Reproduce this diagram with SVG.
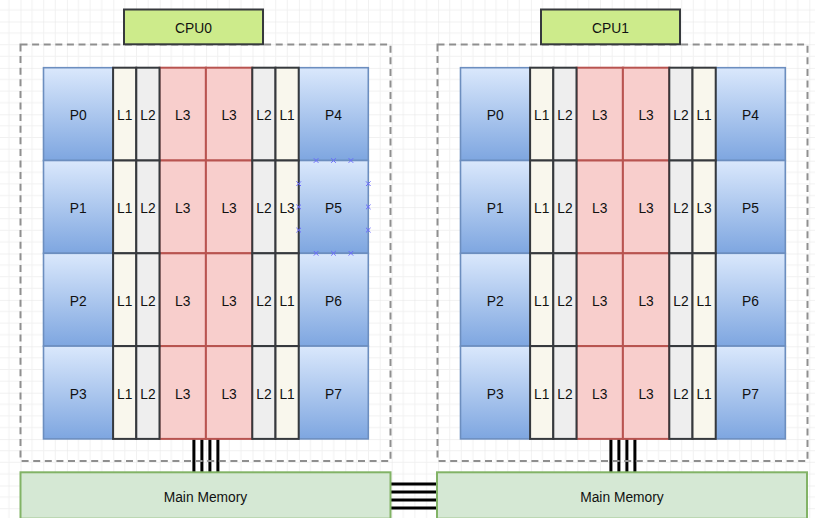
<svg xmlns="http://www.w3.org/2000/svg" xmlns:xlink="http://www.w3.org/1999/xlink" width="815" height="518" viewBox="0 0 815 518">
  <defs>
    <pattern id="grid" patternUnits="userSpaceOnUse" x="20.5" y="21.5" width="46.4" height="46.4">
      <path d="M11.6,0V46.4M23.2,0V46.4M34.8,0V46.4M0,11.6H46.4M0,23.2H46.4M0,34.8H46.4" fill="none" stroke="#f1f1f1" stroke-width="1"/>
      <path d="M0,0V46.4M0,0H46.4" fill="none" stroke="#e4e4e4" stroke-width="1"/>
    </pattern>
    <linearGradient id="pg" x1="0" y1="0" x2="0" y2="1">
      <stop offset="0" stop-color="#dae8fc"/>
      <stop offset="1" stop-color="#7ea6e0"/>
    </linearGradient>
    <path id="handle" d="M-2.3,-2.3L2.3,2.3M-2.3,2.3L2.3,-2.3" fill="none" stroke="#6a6aff" stroke-width="1"/>
  </defs>
  <style>
    text { font-family: "Liberation Sans", Arial, Helvetica, sans-serif; font-size: 13.8px; text-anchor: middle; fill: #111; }
    .frame { fill: none; stroke: #8f8f8f; stroke-width: 2; stroke-dasharray: 7 4.6; }
    .cpu rect { fill: #cdeb8b; stroke: #36393d; stroke-width: 2; }
    .p rect { fill: url(#pg); stroke: #6c8ebf; stroke-width: 1.6; }
    .l1 rect { fill: #f9f7ed; stroke: #36393d; stroke-width: 2; }
    .l2 rect { fill: #eeeeee; stroke: #36393d; stroke-width: 2; }
    .l3 rect { fill: #f8cecc; stroke: #b85450; stroke-width: 2; }
    .mem rect { fill: #d5e8d4; stroke: #82b366; stroke-width: 2; }
    .bus { stroke: #000; stroke-width: 3; fill: none; }
  </style>

  <rect x="0" y="0" width="815" height="518" fill="#ffffff"/>
  <rect x="0" y="0" width="815" height="518" fill="url(#grid)"/>

  <!-- memory buses -->
  <g id="connectors">
    <path class="bus" d="M193.9,438.9V472.3M201.9,438.9V472.3M209.9,438.9V472.3M217.9,438.9V472.3"/>
    <path class="bus" d="M610.9,438.9V472.3M618.9,438.9V472.3M626.9,438.9V472.3M634.9,438.9V472.3"/>
    <path class="bus" d="M390.5,484H437M390.5,492H437M390.5,500H437M390.5,508H437"/>
  </g>

  <!-- socket 0 -->
  <g id="cpu0">
    <rect id="cpu0-frame" class="frame" x="20.5" y="44.5" width="370" height="416.5"/>
    <g id="cpu0-label" class="cpu"><rect x="124" y="9.5" width="139" height="34.8"/><text x="193.5" y="33.3">CPU0</text></g>

    <g id="cpu0-p0" class="p"><rect x="43.5" y="67.7" width="69.6" height="92.8"/><text x="78.3" y="120.4">P0</text></g>
    <g id="cpu0-p1" class="p"><rect x="43.5" y="160.5" width="69.6" height="92.8"/><text x="78.3" y="213.2">P1</text></g>
    <g id="cpu0-p2" class="p"><rect x="43.5" y="253.3" width="69.6" height="92.8"/><text x="78.3" y="306">P2</text></g>
    <g id="cpu0-p3" class="p"><rect x="43.5" y="346.1" width="69.6" height="92.8"/><text x="78.3" y="398.8">P3</text></g>
    <g id="cpu0-p4" class="p"><rect x="298.7" y="67.7" width="69.6" height="92.8"/><text x="333.5" y="120.4">P4</text></g>
    <g id="cpu0-p5" class="p"><rect x="298.7" y="160.5" width="69.6" height="92.8"/><text x="333.5" y="213.2">P5</text></g>
    <g id="cpu0-p6" class="p"><rect x="298.7" y="253.3" width="69.6" height="92.8"/><text x="333.5" y="306">P6</text></g>
    <g id="cpu0-p7" class="p"><rect x="298.7" y="346.1" width="69.6" height="92.8"/><text x="333.5" y="398.8">P7</text></g>

    <g id="cpu0-r0-l3a" class="l3"><rect x="159.5" y="67.7" width="46.4" height="92.8"/><text x="182.7" y="120.4">L3</text></g>
    <g id="cpu0-r0-l3b" class="l3"><rect x="205.9" y="67.7" width="46.4" height="92.8"/><text x="229.1" y="120.4">L3</text></g>
    <g id="cpu0-r1-l3a" class="l3"><rect x="159.5" y="160.5" width="46.4" height="92.8"/><text x="182.7" y="213.2">L3</text></g>
    <g id="cpu0-r1-l3b" class="l3"><rect x="205.9" y="160.5" width="46.4" height="92.8"/><text x="229.1" y="213.2">L3</text></g>
    <g id="cpu0-r2-l3a" class="l3"><rect x="159.5" y="253.3" width="46.4" height="92.8"/><text x="182.7" y="306">L3</text></g>
    <g id="cpu0-r2-l3b" class="l3"><rect x="205.9" y="253.3" width="46.4" height="92.8"/><text x="229.1" y="306">L3</text></g>
    <g id="cpu0-r3-l3a" class="l3"><rect x="159.5" y="346.1" width="46.4" height="92.8"/><text x="182.7" y="398.8">L3</text></g>
    <g id="cpu0-r3-l3b" class="l3"><rect x="205.9" y="346.1" width="46.4" height="92.8"/><text x="229.1" y="398.8">L3</text></g>

    <g id="cpu0-r0-l1a" class="l1"><rect x="113.1" y="67.7" width="23.2" height="92.8"/><text x="124.7" y="120.4">L1</text></g>
    <g id="cpu0-r0-l2a" class="l2"><rect x="136.3" y="67.7" width="23.2" height="92.8"/><text x="147.9" y="120.4">L2</text></g>
    <g id="cpu0-r0-l2b" class="l2"><rect x="252.3" y="67.7" width="23.2" height="92.8"/><text x="263.9" y="120.4">L2</text></g>
    <g id="cpu0-r0-l1b" class="l1"><rect x="275.5" y="67.7" width="23.2" height="92.8"/><text x="287.1" y="120.4">L1</text></g>

    <g id="cpu0-r1-l1a" class="l1"><rect x="113.1" y="160.5" width="23.2" height="92.8"/><text x="124.7" y="213.2">L1</text></g>
    <g id="cpu0-r1-l2a" class="l2"><rect x="136.3" y="160.5" width="23.2" height="92.8"/><text x="147.9" y="213.2">L2</text></g>
    <g id="cpu0-r1-l2b" class="l2"><rect x="252.3" y="160.5" width="23.2" height="92.8"/><text x="263.9" y="213.2">L2</text></g>
    <g id="cpu0-r1-l1b" class="l1"><rect x="275.5" y="160.5" width="23.2" height="92.8"/><text x="287.1" y="213.2">L3</text></g>

    <g id="cpu0-r2-l1a" class="l1"><rect x="113.1" y="253.3" width="23.2" height="92.8"/><text x="124.7" y="306">L1</text></g>
    <g id="cpu0-r2-l2a" class="l2"><rect x="136.3" y="253.3" width="23.2" height="92.8"/><text x="147.9" y="306">L2</text></g>
    <g id="cpu0-r2-l2b" class="l2"><rect x="252.3" y="253.3" width="23.2" height="92.8"/><text x="263.9" y="306">L2</text></g>
    <g id="cpu0-r2-l1b" class="l1"><rect x="275.5" y="253.3" width="23.2" height="92.8"/><text x="287.1" y="306">L1</text></g>

    <g id="cpu0-r3-l1a" class="l1"><rect x="113.1" y="346.1" width="23.2" height="92.8"/><text x="124.7" y="398.8">L1</text></g>
    <g id="cpu0-r3-l2a" class="l2"><rect x="136.3" y="346.1" width="23.2" height="92.8"/><text x="147.9" y="398.8">L2</text></g>
    <g id="cpu0-r3-l2b" class="l2"><rect x="252.3" y="346.1" width="23.2" height="92.8"/><text x="263.9" y="398.8">L2</text></g>
    <g id="cpu0-r3-l1b" class="l1"><rect x="275.5" y="346.1" width="23.2" height="92.8"/><text x="287.1" y="398.8">L1</text></g>

    <!-- selection handles around P5 -->
    <g id="cpu0-p5-handles">
      <use xlink:href="#handle" x="316.1" y="160.5"/>
      <use xlink:href="#handle" x="333.5" y="160.5"/>
      <use xlink:href="#handle" x="350.9" y="160.5"/>
      <use xlink:href="#handle" x="316.1" y="253.3"/>
      <use xlink:href="#handle" x="333.5" y="253.3"/>
      <use xlink:href="#handle" x="350.9" y="253.3"/>
      <use xlink:href="#handle" x="298.7" y="183.7"/>
      <use xlink:href="#handle" x="298.7" y="206.9"/>
      <use xlink:href="#handle" x="298.7" y="230.1"/>
      <use xlink:href="#handle" x="368.3" y="183.7"/>
      <use xlink:href="#handle" x="368.3" y="206.9"/>
      <use xlink:href="#handle" x="368.3" y="230.1"/>
    </g>
  </g>

  <!-- socket 1 -->
  <g id="cpu1" transform="translate(417,0)">
    <rect id="cpu1-frame" class="frame" x="20.5" y="44.5" width="370" height="416.5"/>
    <g id="cpu1-label" class="cpu"><rect x="124" y="9.5" width="139" height="34.8"/><text x="193.5" y="33.3">CPU1</text></g>

    <g id="cpu1-p0" class="p"><rect x="43.5" y="67.7" width="69.6" height="92.8"/><text x="78.3" y="120.4">P0</text></g>
    <g id="cpu1-p1" class="p"><rect x="43.5" y="160.5" width="69.6" height="92.8"/><text x="78.3" y="213.2">P1</text></g>
    <g id="cpu1-p2" class="p"><rect x="43.5" y="253.3" width="69.6" height="92.8"/><text x="78.3" y="306">P2</text></g>
    <g id="cpu1-p3" class="p"><rect x="43.5" y="346.1" width="69.6" height="92.8"/><text x="78.3" y="398.8">P3</text></g>
    <g id="cpu1-p4" class="p"><rect x="298.7" y="67.7" width="69.6" height="92.8"/><text x="333.5" y="120.4">P4</text></g>
    <g id="cpu1-p5" class="p"><rect x="298.7" y="160.5" width="69.6" height="92.8"/><text x="333.5" y="213.2">P5</text></g>
    <g id="cpu1-p6" class="p"><rect x="298.7" y="253.3" width="69.6" height="92.8"/><text x="333.5" y="306">P6</text></g>
    <g id="cpu1-p7" class="p"><rect x="298.7" y="346.1" width="69.6" height="92.8"/><text x="333.5" y="398.8">P7</text></g>

    <g id="cpu1-r0-l3a" class="l3"><rect x="159.5" y="67.7" width="46.4" height="92.8"/><text x="182.7" y="120.4">L3</text></g>
    <g id="cpu1-r0-l3b" class="l3"><rect x="205.9" y="67.7" width="46.4" height="92.8"/><text x="229.1" y="120.4">L3</text></g>
    <g id="cpu1-r1-l3a" class="l3"><rect x="159.5" y="160.5" width="46.4" height="92.8"/><text x="182.7" y="213.2">L3</text></g>
    <g id="cpu1-r1-l3b" class="l3"><rect x="205.9" y="160.5" width="46.4" height="92.8"/><text x="229.1" y="213.2">L3</text></g>
    <g id="cpu1-r2-l3a" class="l3"><rect x="159.5" y="253.3" width="46.4" height="92.8"/><text x="182.7" y="306">L3</text></g>
    <g id="cpu1-r2-l3b" class="l3"><rect x="205.9" y="253.3" width="46.4" height="92.8"/><text x="229.1" y="306">L3</text></g>
    <g id="cpu1-r3-l3a" class="l3"><rect x="159.5" y="346.1" width="46.4" height="92.8"/><text x="182.7" y="398.8">L3</text></g>
    <g id="cpu1-r3-l3b" class="l3"><rect x="205.9" y="346.1" width="46.4" height="92.8"/><text x="229.1" y="398.8">L3</text></g>

    <g id="cpu1-r0-l1a" class="l1"><rect x="113.1" y="67.7" width="23.2" height="92.8"/><text x="124.7" y="120.4">L1</text></g>
    <g id="cpu1-r0-l2a" class="l2"><rect x="136.3" y="67.7" width="23.2" height="92.8"/><text x="147.9" y="120.4">L2</text></g>
    <g id="cpu1-r0-l2b" class="l2"><rect x="252.3" y="67.7" width="23.2" height="92.8"/><text x="263.9" y="120.4">L2</text></g>
    <g id="cpu1-r0-l1b" class="l1"><rect x="275.5" y="67.7" width="23.2" height="92.8"/><text x="287.1" y="120.4">L1</text></g>

    <g id="cpu1-r1-l1a" class="l1"><rect x="113.1" y="160.5" width="23.2" height="92.8"/><text x="124.7" y="213.2">L1</text></g>
    <g id="cpu1-r1-l2a" class="l2"><rect x="136.3" y="160.5" width="23.2" height="92.8"/><text x="147.9" y="213.2">L2</text></g>
    <g id="cpu1-r1-l2b" class="l2"><rect x="252.3" y="160.5" width="23.2" height="92.8"/><text x="263.9" y="213.2">L2</text></g>
    <g id="cpu1-r1-l1b" class="l1"><rect x="275.5" y="160.5" width="23.2" height="92.8"/><text x="287.1" y="213.2">L3</text></g>

    <g id="cpu1-r2-l1a" class="l1"><rect x="113.1" y="253.3" width="23.2" height="92.8"/><text x="124.7" y="306">L1</text></g>
    <g id="cpu1-r2-l2a" class="l2"><rect x="136.3" y="253.3" width="23.2" height="92.8"/><text x="147.9" y="306">L2</text></g>
    <g id="cpu1-r2-l2b" class="l2"><rect x="252.3" y="253.3" width="23.2" height="92.8"/><text x="263.9" y="306">L2</text></g>
    <g id="cpu1-r2-l1b" class="l1"><rect x="275.5" y="253.3" width="23.2" height="92.8"/><text x="287.1" y="306">L1</text></g>

    <g id="cpu1-r3-l1a" class="l1"><rect x="113.1" y="346.1" width="23.2" height="92.8"/><text x="124.7" y="398.8">L1</text></g>
    <g id="cpu1-r3-l2a" class="l2"><rect x="136.3" y="346.1" width="23.2" height="92.8"/><text x="147.9" y="398.8">L2</text></g>
    <g id="cpu1-r3-l2b" class="l2"><rect x="252.3" y="346.1" width="23.2" height="92.8"/><text x="263.9" y="398.8">L2</text></g>
    <g id="cpu1-r3-l1b" class="l1"><rect x="275.5" y="346.1" width="23.2" height="92.8"/><text x="287.1" y="398.8">L1</text></g>
  </g>

  <!-- main memories -->
  <g id="mem0" class="mem"><rect x="20.5" y="472.3" width="370" height="46.4"/><text x="205.5" y="502">Main Memory</text></g>
  <g id="mem1" class="mem"><rect x="437" y="472.3" width="370" height="46.4"/><text x="622" y="502">Main Memory</text></g>
</svg>
